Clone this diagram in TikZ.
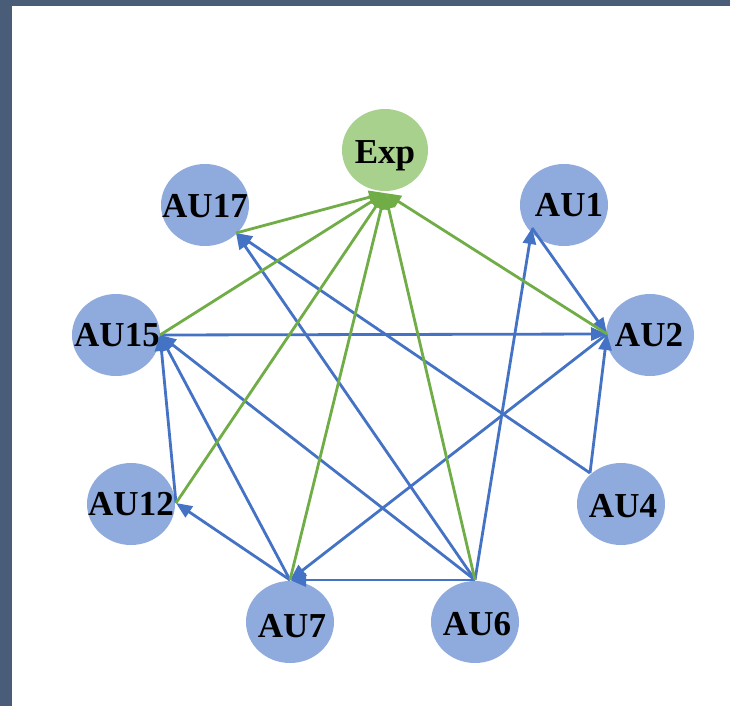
\documentclass[tikz,border=0pt]{standalone}
\usepackage{fontspec}
\setmainfont{Liberation Serif}
\usetikzlibrary{arrows.meta,shapes.geometric}
\definecolor{bluefill}{HTML}{8FAADC}
\definecolor{greenfill}{HTML}{A9D18E}
\definecolor{blueline}{HTML}{4472C4}
\definecolor{greenline}{HTML}{70AD47}
\definecolor{framec}{HTML}{4A5D78}
\begin{document}
\begin{tikzpicture}[x=1pt,y=-1pt,
  au/.style={ellipse, fill=bluefill, minimum width=88pt, minimum height=82pt, inner sep=0pt},
  expn/.style={au, fill=greenfill, minimum width=86pt},
  lab/.style={font=\bfseries\fontsize{35}{37}\selectfont, anchor=base, inner sep=0pt},
  bl/.style={draw=blueline, line width=2.8pt, -{Triangle[length=16pt,width=13pt]}},
  gr/.style={draw=greenline, line width=2.8pt, -{Triangle[length=16pt,width=13pt]}}]
% background
\fill[framec] (0,0) rectangle (730,706);
\fill[white] (12,6) rectangle (730,706);
\useasboundingbox (0,0) rectangle (730,706);
% nodes
\node[expn] (Exp) at (385,150) {};
\node[au] (AU17) at (205,205) {};
\node[au] (AU1) at (564,205) {};
\node[au] (AU15) at (116,335) {};
\node[au] (AU2) at (650,335) {};
\node[au] (AU12) at (131,504) {};
\node[au] (AU4) at (621,504) {};
\node[au] (AU7) at (290,622) {};
\node[au] (AU6) at (475,622) {};
% labels
\node[lab] (lExp) at (385,163) {Exp};
\node[lab] (l17) at (205,217) {AU17};
\node[lab] (l1) at (569,216) {AU1};
\node[lab] (l15) at (117,346) {AU15};
\node[lab] (l2) at (649,346) {AU2};
\node[lab] (l12) at (131,515) {AU12};
\node[lab] (l4) at (623,517) {AU4};
\node[lab] (l7) at (292,637) {AU7};
\node[lab] (l6) at (477,635) {AU6};
% attach points
\coordinate (pExp) at (385,193);
\coordinate (p17) at (236,233);
\coordinate (p1) at (532,228);
\coordinate (p15) at (160,335);
\coordinate (p2) at (607,334);
\coordinate (p12) at (176,503);
\coordinate (p4) at (590,473);
\coordinate (p7) at (290,580);
\coordinate (p6) at (475,580);
% blue edges
\draw[bl] (p6) -- (p17);
\draw[bl] (p4) -- (p17);
\draw[bl] (p15) -- (p2);
\draw[bl] (p1) -- (p2);
\draw[bl] (p6) -- (p1);
\draw[bl] (p4) -- (p2);
\draw[bl] (p2) -- (p7);
\draw[bl] (p6) -- (p7);
\draw[bl] (p7) -- (p15);
\draw[bl] (p6) -- (p15);
\draw[bl] (p12) -- (p15);
\draw[bl] (p7) -- (p12);
% green edges
\draw[gr] (p17) -- (pExp);
\draw[gr] (p15) -- (pExp);
\draw[gr] (p12) -- (pExp);
\draw[gr] (p7) -- (pExp);
\draw[gr] (p6) -- (pExp);
\draw[gr] (p2) -- (pExp);
\end{tikzpicture}
\end{document}
